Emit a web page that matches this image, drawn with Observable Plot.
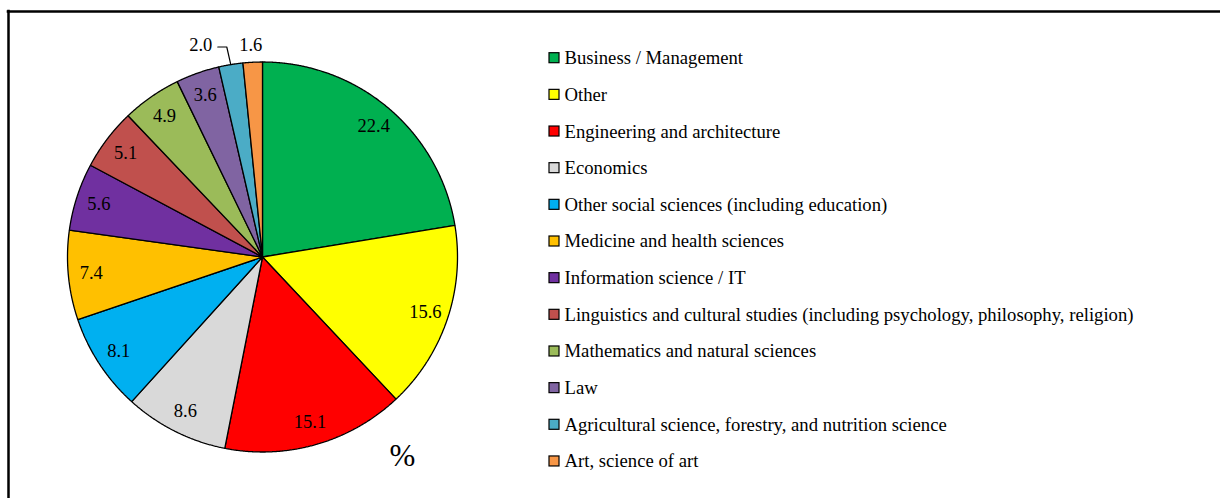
<!DOCTYPE html>
<html>
<head>
<meta charset="utf-8">
<script src="https://cdn.jsdelivr.net/npm/d3@7"></script>
<script src="https://cdn.jsdelivr.net/npm/@observablehq/plot@0.6"></script>
<style>
  html, body { margin: 0; padding: 0; background: #fff; }
  #chart svg { display: block; }
  #chart svg text { font-family: "Liberation Serif", "Times New Roman", serif; }
</style>
</head>
<body>
<div id="chart"></div>
<script>
// ---- Data ----
const categories = [
  "Business / Management",
  "Other",
  "Engineering and architecture",
  "Economics",
  "Other social sciences (including education)",
  "Medicine and health sciences",
  "Information science / IT",
  "Linguistics and cultural studies (including psychology, philosophy, religion)",
  "Mathematics and natural sciences",
  "Law",
  "Agricultural science, forestry, and nutrition science",
  "Art, science of art"
];
const values = [22.4, 15.6, 15.1, 8.6, 8.1, 7.4, 5.6, 5.1, 4.9, 3.6, 2.0, 1.6];
const colors = ["#00B050", "#FFFF00", "#FF0000", "#D9D9D9", "#00B0F0", "#FFC000",
                "#7030A0", "#C0504D", "#9BBB59", "#8064A2", "#4BACC6", "#F79646"];
const unitLabel = "%";

// ---- Layout ----
const W = 1220, H = 498;
const cx = 262, cy = 256.5, R = 195, labelR = 172;
const serif = "Liberation Serif";

const arcs = d3.pie().sort(null).value(d => d)(values);
const pt = (r, a) => [cx + r * Math.sin(a), cy - r * Math.cos(a)];

// slice polygons
const slicePts = [];
arcs.forEach((a, i) => {
  const n = Math.max(4, Math.ceil((a.endAngle - a.startAngle) / (Math.PI / 720)));
  slicePts.push({cat: categories[i], x: cx, y: cy});
  for (let k = 0; k <= n; k++) {
    const ang = a.startAngle + (a.endAngle - a.startAngle) * k / n;
    const [x, y] = pt(R, ang);
    slicePts.push({cat: categories[i], x, y});
  }
  slicePts.push({cat: categories[i], x: cx, y: cy});
});

// labels
const inside = [], outside = [], leaders = [];
const smallIdx = arcs.map((a, i) => i).filter(i => values[i] < 3);
arcs.forEach((a, i) => {
  const mid = (a.startAngle + a.endAngle) / 2;
  const txt = values[i].toFixed(1);
  if (values[i] >= 3) {
    const [x, y] = pt(labelR, mid);
    inside.push({x, y, txt});
  } else {
    const j = smallIdx.length - 1 - smallIdx.indexOf(i);
    const [ex, ey] = pt(R, mid);
    const ly = cy - R - 17;
    const lx = ex - 2 - j * 28;
    outside.push({x: lx, y: ly, txt});
    if (j > 0) {
      leaders.push({id: i, x: lx + 17, y: ly + 2});
      leaders.push({id: i, x: lx + 26, y: ly + 2});
      leaders.push({id: i, x: ex, y: ey});
    }
  }
});

// legend
const legY0 = 57.7, legStep = 36.66, legX = 549, sw = 10;
const legend = categories.map((c, i) => ({cat: c, y: legY0 + i * legStep}));

const chart = Plot.plot({
  width: W, height: H,
  margin: 0,
  x: {domain: [0, W], range: [0, W], axis: null},
  y: {domain: [0, H], range: [0, H], axis: null},
  color: {domain: categories, range: colors},
  style: {background: "#fff"},
  marks: [
    // frame
    Plot.ruleY([11], {x1: 6.7, x2: W, stroke: "#000", strokeWidth: 2.5}),
    Plot.ruleX([8], {y1: 9.8, y2: H, stroke: "#000", strokeWidth: 2.5}),
    // pie slices
    Plot.line(slicePts, {x: "x", y: "y", z: "cat", fill: "cat", stroke: "#000",
      strokeWidth: 1.3, strokeLinejoin: "miter", curve: "linear"}),
    // inside labels
    Plot.text(inside, {x: "x", y: "y", text: "txt", fontSize: 18.5, fill: "#000",
      fontFamily: serif}),
    // outside labels
    Plot.text(outside, {x: "x", y: "y", text: "txt", fontSize: 18.5, fill: "#000",
      fontFamily: serif}),
    Plot.line(leaders, {x: "x", y: "y", z: "id", stroke: "#000", strokeWidth: 1.2}),
    // unit
    Plot.text([unitLabel], {x: () => 402, y: () => 456, text: d => d, fontSize: 31,
      fill: "#000", fontFamily: serif}),
    // legend swatches
    Plot.rect(legend, {x1: () => legX, x2: () => legX + sw,
      y1: d => d.y - sw / 2, y2: d => d.y + sw / 2,
      fill: "cat", stroke: "#000", strokeWidth: 1.2}),
    Plot.text(legend, {x: () => 564, y: "y", text: "cat", textAnchor: "start",
      fontSize: 18.7, fill: "#000", fontFamily: serif})
  ]
});
document.getElementById("chart").append(chart);
</script>
</body>
</html>
